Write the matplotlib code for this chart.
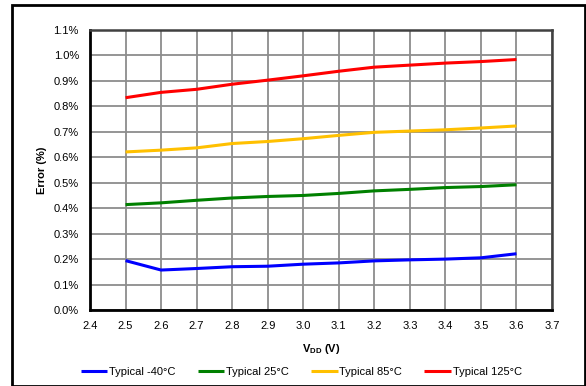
import matplotlib
matplotlib.use("Agg")
import matplotlib.pyplot as plt
from matplotlib.patches import Rectangle
from matplotlib.ticker import FuncFormatter

plt.rcParams['font.family'] = ['Liberation Sans', 'DejaVu Sans']

vdd = [2.5, 2.6, 2.7, 2.8, 2.9, 3.0, 3.1, 3.2, 3.3, 3.4, 3.5, 3.6]
err_m40 = [0.194, 0.157, 0.163, 0.170, 0.172, 0.180, 0.185, 0.193, 0.197, 0.200, 0.205, 0.221]
err_25 = [0.414, 0.421, 0.431, 0.440, 0.446, 0.450, 0.458, 0.468, 0.474, 0.481, 0.485, 0.492]
err_85 = [0.621, 0.628, 0.637, 0.654, 0.662, 0.673, 0.686, 0.698, 0.703, 0.708, 0.715, 0.723]
err_125 = [0.834, 0.855, 0.867, 0.887, 0.903, 0.920, 0.938, 0.954, 0.962, 0.970, 0.976, 0.984]
labels = ["Typical -40°C", "Typical 25°C", "Typical 85°C", "Typical 125°C"]
colors = ["#0000ff", "#008000", "#ffc000", "#ff0000"]

fig = plt.figure(figsize=(5.86, 3.86), dpi=100)
fig.patches.append(Rectangle((12/586, 0.0), (585-12)/586, 1-5/386, transform=fig.transFigure,
                             fill=False, edgecolor='black', linewidth=2))
ax = fig.add_axes([90/586, 1-310/386, (552-90)/586, (310-30)/386])

for ys, lab, c in zip([err_m40, err_25, err_85, err_125], labels, colors):
    ax.plot(vdd, ys, color=c, linewidth=2.2, label=lab, solid_capstyle='butt')

ax.set_xlim(2.4, 3.7)
ax.set_ylim(0, 1.1)
ax.set_xticks([2.4 + 0.1*i for i in range(14)])
ax.set_yticks([0.1*i for i in range(12)])
ax.xaxis.set_major_formatter(FuncFormatter(lambda v, p: f"{v:.1f}"))
ax.yaxis.set_major_formatter(FuncFormatter(lambda v, p: f"{v:.1f}%"))
ax.tick_params(length=0, labelsize=8, pad=8)
ax.grid(True, color='#8c8c8c', linewidth=1.3)
ax.set_axisbelow(True)
for s in ['left', 'bottom']:
    ax.spines[s].set_color('black')
    ax.spines[s].set_linewidth(2)
for s in ['top', 'right']:
    ax.spines[s].set_color('#404040')
    ax.spines[s].set_linewidth(1.8)

ax.set_ylabel("Error (%)", fontsize=8, fontweight='bold', labelpad=5)
ax.set_xlabel(r"V$_{\mathregular{DD}}$ (V)", fontsize=8, fontweight='bold', labelpad=8)

fig.legend(loc='center', bbox_to_anchor=(0.514, 1-372/386), ncol=4, frameon=False,
           fontsize=8, handlelength=2.4, handletextpad=0.15, columnspacing=2.0)

fig.savefig("out.png", dpi=100)
